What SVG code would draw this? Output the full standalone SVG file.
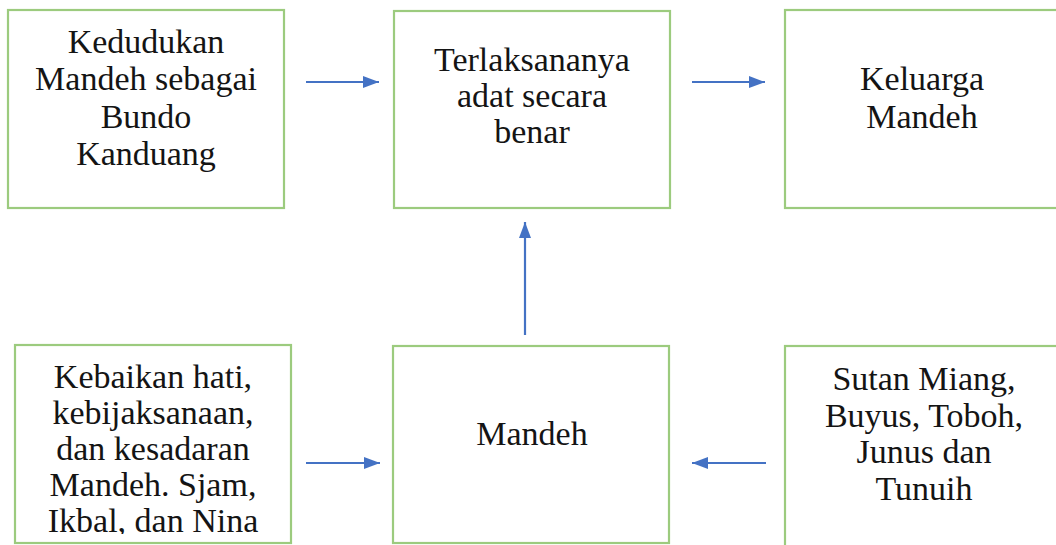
<svg xmlns="http://www.w3.org/2000/svg" width="1056" height="545" viewBox="0 0 1056 545">
<style>
.box{fill:#ffffff;stroke:#9ccb7e;stroke-width:2.2}
.lbl{font-family:"Liberation Serif","Times New Roman",serif;font-size:34px;fill:#141414;text-anchor:middle}
.conn{stroke:#4472c4;stroke-width:2.2;fill:none;marker-end:url(#ah)}
</style>
<defs>
<marker id="ah" markerUnits="userSpaceOnUse" markerWidth="16" markerHeight="12" refX="16" refY="6" orient="auto">
<path d="M0,0 L16,6 L0,12 z" fill="#4472c4"/>
</marker>
<clipPath id="clipD"><rect x="15" y="345" width="276" height="189"/></clipPath>
</defs>
<rect width="1056" height="545" fill="#ffffff"/>
<g id="node-kedudukan">
<rect class="box" x="8" y="10" width="276" height="198"/>
<text class="lbl" x="146" y="53">Kedudukan</text>
<text class="lbl" x="146" y="90">Mandeh sebagai</text>
<text class="lbl" x="146" y="128">Bundo</text>
<text class="lbl" x="146" y="165">Kanduang</text>
</g>
<g id="node-terlaksananya">
<rect class="box" x="394" y="11" width="276" height="197"/>
<text class="lbl" x="532" y="71">Terlaksananya</text>
<text class="lbl" x="532" y="107">adat secara</text>
<text class="lbl" x="532" y="143">benar</text>
</g>
<g id="node-keluarga">
<rect class="box" x="785" y="10" width="280" height="198"/>
<text class="lbl" x="922" y="90">Keluarga</text>
<text class="lbl" x="922" y="128">Mandeh</text>
</g>
<g id="node-kebaikan">
<rect class="box" x="15" y="345" width="276" height="198"/>
<g clip-path="url(#clipD)">
<text class="lbl" x="153" y="388">Kebaikan hati,</text>
<text class="lbl" x="153" y="424">kebijaksanaan,</text>
<text class="lbl" x="153" y="460">dan kesadaran</text>
<text class="lbl" x="153" y="496">Mandeh. Sjam,</text>
<text class="lbl" x="153" y="532">Ikbal, dan Nina</text>
</g>
</g>
<g id="node-mandeh">
<rect class="box" x="393" y="346" width="276" height="197"/>
<text class="lbl" x="532" y="445">Mandeh</text>
</g>
<g id="node-sutan">
<rect class="box" x="785" y="346" width="280" height="210"/>
<text class="lbl" x="924" y="390">Sutan Miang,</text>
<text class="lbl" x="924" y="427">Buyus, Toboh,</text>
<text class="lbl" x="924" y="463">Junus dan</text>
<text class="lbl" x="924" y="500">Tunuih</text>
</g>
<g id="connectors">
<line class="conn" x1="306" y1="82" x2="379" y2="82"/>
<line class="conn" x1="692" y1="82" x2="765" y2="82"/>
<line class="conn" x1="525" y1="335" x2="525" y2="222"/>
<line class="conn" x1="306" y1="463" x2="380" y2="463"/>
<line class="conn" x1="766" y1="463" x2="692" y2="463"/>
</g>
</svg>
